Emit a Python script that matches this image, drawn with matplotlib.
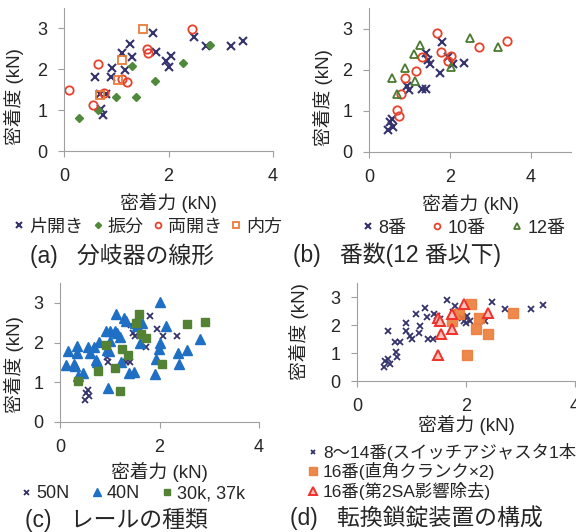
import numpy as np
import matplotlib
matplotlib.use("Agg")
import matplotlib.pyplot as plt

plt.rcParams['font.family'] = ['Liberation Sans', 'Noto Sans CJK JP', 'DejaVu Sans']
plt.rcParams['text.color'] = '#262626'
plt.rcParams['axes.labelcolor'] = '#262626'
plt.rcParams['xtick.color'] = '#a0a0a0'
plt.rcParams['ytick.color'] = '#a0a0a0'
plt.rcParams['xtick.labelcolor'] = '#262626'
plt.rcParams['ytick.labelcolor'] = '#262626'

NAVY = '#35336b'
RED = '#e8412c'
ORANGE = '#ec7c3a'
GREEN = '#4e8a3a'
BLUE = '#1f6fc4'

# (a) 分岐器の線形
a_kata_x = [0.59, 0.68, 0.80, 0.71, 0.75, 0.91, 0.90, 1.11, 1.17, 1.26, 1.30, 1.70, 1.77, 1.96, 2.01, 2.05, 2.49, 2.72, 3.19, 3.43]
a_kata_y = [1.80, 1.40, 1.40, 1.04, 0.87, 2.04, 1.80, 2.39, 1.98, 2.61, 2.29, 2.90, 2.43, 2.21, 2.06, 2.33, 2.80, 2.57, 2.57, 2.70]
a_furi_x = [0.29, 0.66, 1.00, 1.31, 1.37, 1.75, 2.27, 2.80]
a_furi_y = [0.81, 1.01, 1.32, 2.08, 1.32, 1.71, 2.16, 2.59]
a_ryo_x = [0.10, 0.55, 0.66, 0.76, 1.11, 1.21, 1.59, 1.61, 2.45]
a_ryo_y = [1.49, 1.12, 2.12, 1.41, 1.76, 1.69, 2.49, 2.40, 2.98]
a_nai_x = [0.68, 1.03, 1.11, 1.51]
a_nai_y = [1.37, 1.73, 2.22, 2.98]

# (b) 番数
b_8_x = [0.47, 0.51, 0.60, 0.57, 0.93, 0.98, 1.30, 1.40, 1.42, 1.46, 1.52, 1.75, 1.81, 1.96, 2.07, 2.36]
b_8_y = [0.54, 0.74, 0.61, 0.80, 1.60, 1.50, 1.52, 1.52, 2.40, 2.23, 2.15, 1.91, 2.67, 2.30, 2.15, 2.17]
b_10_x = [0.70, 0.74, 0.80, 0.90, 1.16, 1.30, 1.69, 1.77, 1.96, 2.04, 2.72, 3.42]
b_10_y = [1.03, 0.87, 1.40, 1.81, 1.97, 2.30, 2.90, 2.42, 2.22, 2.34, 2.56, 2.71]
b_12_x = [0.58, 0.70, 0.90, 1.11, 1.15, 1.26, 2.02, 2.50, 3.20]
b_12_y = [1.79, 1.40, 2.05, 2.38, 1.72, 2.60, 2.07, 2.78, 2.55]

# (c) レールの種類
c_50_x = [0.50, 0.52, 0.57, 0.59, 0.94, 0.97, 1.32, 1.41, 1.43, 1.46, 1.51, 1.73, 1.80, 1.95, 2.07, 2.35]
c_50_y = [0.55, 0.74, 0.80, 0.65, 1.63, 1.52, 1.52, 1.52, 2.43, 2.24, 2.16, 1.90, 2.68, 2.34, 2.16, 2.17]
c_40_x = [0.12, 0.17, 0.28, 0.30, 0.34, 0.34, 0.37, 0.46, 0.56, 0.60, 0.69, 0.72, 0.75, 0.79, 0.93,
          0.95, 0.97, 1.01, 1.01, 0.99, 1.11, 1.12, 1.15, 1.21, 1.22, 1.29, 1.33, 1.38, 1.48, 1.50,
          1.54, 1.61, 1.64, 1.90, 1.93, 1.98, 2.00, 2.00, 2.13, 2.38, 2.40, 2.55, 2.81]
c_40_y = [1.44, 1.78, 1.46, 1.41, 1.92, 1.75, 1.16, 1.23, 1.89, 1.73, 1.89, 1.55, 1.50, 2.01, 2.30,
          1.82, 0.85, 2.30, 2.03, 1.79, 2.30, 2.72, 2.24, 2.13, 1.52, 2.62, 2.54, 1.23, 1.27, 2.49,
          2.41, 2.00, 2.49, 1.21, 1.58, 1.84, 1.99, 3.02, 2.41, 1.75, 1.46, 1.82, 2.09]
c_30_x = [0.36, 0.76, 0.93, 1.11, 1.21, 1.25, 1.36, 1.53, 1.58, 1.62, 1.72, 2.05, 2.55, 2.92]
c_30_y = [1.03, 1.28, 1.94, 1.37, 0.79, 1.84, 1.69, 2.49, 2.73, 2.21, 2.11, 1.46, 2.48, 2.51]

# (d) 転換鎖錠装置の構成
d_814_x = [0.50, 0.51, 0.56, 0.60, 0.57, 0.69, 0.71, 0.74, 0.79, 0.89, 0.89, 0.97, 1.00, 1.09, 1.13, 1.16, 1.25, 1.29,
           1.30, 1.40, 1.42, 1.46, 1.52, 1.66, 1.77, 1.80, 1.93, 1.97, 2.00, 2.02, 2.07, 2.35, 2.47, 2.71, 3.19, 3.42]
d_814_y = [0.51, 0.73, 0.78, 0.61, 1.79, 1.41, 1.02, 0.85, 1.41, 2.07, 1.80, 1.61, 1.49, 2.39, 1.71, 1.97, 2.60, 2.28,
           1.49, 1.49, 2.40, 2.31, 2.21, 2.90, 2.45, 2.69, 2.25, 2.16, 2.07, 2.33, 2.13, 2.16, 2.81, 2.57, 2.57, 2.71]
d_16c_x = [1.75, 1.87, 2.01, 2.10, 2.18, 2.24, 2.40, 2.86]
d_16c_y = [2.16, 2.40, 0.93, 2.76, 1.86, 2.25, 1.68, 2.43]
d_16s_x = [1.49, 1.49, 1.53, 1.54, 1.74, 1.74, 1.96, 2.40]
d_16s_y = [0.93, 2.25, 2.13, 1.67, 1.86, 2.39, 2.76, 2.43]

W, H = 576, 532
fig = plt.figure(figsize=(W / 100, H / 100), dpi=100)

TICK_FS = 13
LAB_FS = 13.5
LEG_FS = 13
TITLE_FS = 16.5


def make_ax(x0, x1, y0, y1, xmax, ylab_x, ylab_y, xlab_y):
    # pixel box -> figure fraction
    ax = fig.add_axes([x0 / W, (H - y0) / H, (x1 - x0) / W, (y0 - y1) / H])
    ax.set_xlim(0, xmax)
    ax.set_ylim(0, 3.5)
    ax.set_xticks([0, 2, 4])
    ax.set_yticks([0, 1, 2, 3])
    for s in ['top', 'right']:
        ax.spines[s].set_visible(False)
    for s in ['left', 'bottom']:
        ax.spines[s].set_color('#a0a0a0')
    ax.tick_params(labelsize=TICK_FS, length=4, pad=8)
    ax.set_xlabel('密着力 (kN)', fontsize=LAB_FS)
    ax.set_ylabel('密着度 (kN)', fontsize=LAB_FS)
    ax.xaxis.set_label_coords(0.5, xlab_y)
    ax.yaxis.set_label_coords(ylab_x, ylab_y)
    return ax


# (a)
ax = make_ax(64, 273, 151, 8, 4, -0.19, 0.38, -0.29)
h1, = ax.plot(a_kata_x, a_kata_y, 'x', color=NAVY, ms=6, mew=1.5)
h2, = ax.plot(a_furi_x, a_furi_y, 'D', color=GREEN, ms=4.5)
h3, = ax.plot(a_ryo_x, a_ryo_y, 'o', mfc='none', mec=RED, ms=6, mew=1.3)
h4, = ax.plot(a_nai_x, a_nai_y, 's', mfc='none', mec=ORANGE, ms=6, mew=1.3)
fig.legend([h1, h2, h3, h4], ['片開き', '振分', '両開き', '内方'], loc='center',
           bbox_to_anchor=(148 / W, 1 - 227 / H), ncol=4, frameon=False, fontsize=LEG_FS,
           handlelength=0.6, handletextpad=0.25, columnspacing=0.5, markerscale=0.7)
fig.text(30 / W, 1 - 256 / H, '(a)   分岐器の線形', fontsize=TITLE_FS, ha='left', va='center')

# (b)
ax = make_ax(369, 571, 152, 8, 5, -0.18, 0.38, -0.29)
h1, = ax.plot(b_8_x, b_8_y, 'x', color=NAVY, ms=6, mew=1.5)
h2, = ax.plot(b_10_x, b_10_y, 'o', mfc='none', mec=RED, ms=6, mew=1.3)
h3, = ax.plot(b_12_x, b_12_y, '^', mfc='none', mec='#4a7a30', ms=6, mew=1.3)
fig.legend([h1, h2, h3], ['8番', '10番', '12番'], loc='center',
           bbox_to_anchor=(464 / W, 1 - 228 / H), ncol=3, frameon=False, fontsize=LEG_FS,
           handlelength=0.6, handletextpad=0.3, columnspacing=1.4, markerscale=0.7)
fig.text(293 / W, 1 - 255 / H, '(b)   番数(12 番以下)', fontsize=TITLE_FS, ha='left', va='center')

# (c)
ax = make_ax(60, 259, 422, 283, 4, -0.18, 0.41, -0.29)
h1, = ax.plot(c_50_x, c_50_y, 'x', color=NAVY, ms=4.5, mew=1.3)
h2, = ax.plot(c_40_x, c_40_y, '^', color=BLUE, ms=7)
h3, = ax.plot(c_30_x, c_30_y, 's', color='#548235', ms=6)
fig.legend([h1, h2, h3], ['50N', '40N', '30k, 37k'], loc='center',
           bbox_to_anchor=(133 / W, 1 - 494 / H), ncol=3, frameon=False, fontsize=LEG_FS,
           handlelength=0.6, handletextpad=0.25, columnspacing=1.2, markerscale=0.8)
fig.text(25 / W, 1 - 520 / H, '(c)   レールの種類', fontsize=TITLE_FS, ha='left', va='center')

# (d)
ax = make_ax(357, 575, 381, 283, 4, -0.22, 0.5, -0.35)
h1, = ax.plot(d_814_x, d_814_y, 'x', color=NAVY, ms=4, mew=1.3)
h2, = ax.plot(d_16c_x, d_16c_y, 's', color=ORANGE, ms=6.5, alpha=0.9)
h3, = ax.plot(d_16s_x, d_16s_y, '^', mfc='#f9c4bc', mec='#f0302a', ms=6.5, mew=1.4)
fig.legend([h1, h2, h3], ['8〜14番(スイッチアジャスタ1本)', '16番(直角クランク×2)', '16番(第2SA影響除去)'],
           loc='upper left', bbox_to_anchor=(308 / W, 1 - 443 / H), ncol=1, frameon=False,
           fontsize=12.5, handlelength=0.6, handletextpad=0.25, labelspacing=0.08, markerscale=0.8,
           borderpad=0, borderaxespad=0)
fig.text(290 / W, 1 - 518 / H, '(d)   転換鎖錠装置の構成', fontsize=TITLE_FS, ha='left', va='center')

fig.savefig('out.png', dpi=100)
